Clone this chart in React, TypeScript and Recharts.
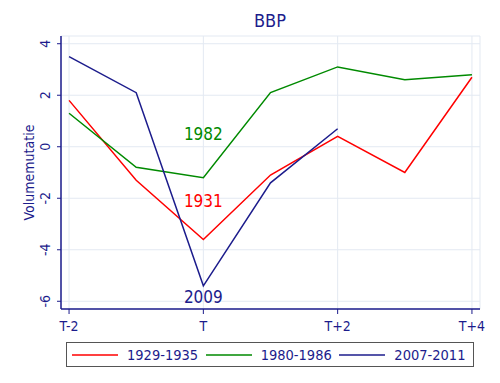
import React from "react";
import {
  LineChart,
  Line,
  XAxis,
  YAxis,
  CartesianGrid,
  Legend,
  ReferenceDot,
  Customized,
} from "recharts";

// T-2 .. T+4, yearly steps
const periods = [-2, -1, 0, 1, 2, 3, 4];
const periodTicks = [-2, 0, 2, 4];
const periodTickLabels = ["T-2", "T", "T+2", "T+4"];
const valueTicks = [-6, -4, -2, 0, 2, 4];

const crisis1929 = [1.8, -1.3, -3.6, -1.1, 0.4, -1.0, 2.7];
const crisis1980 = [1.3, -0.8, -1.2, 2.1, 3.1, 2.6, 2.8];
const crisis2007 = [3.5, 2.1, -5.4, -1.4, 0.7, null, null];

const seriesKeys = ["c1929", "c1980", "c2007"];
const seriesNames = ["1929-1935", "1980-1986", "2007-2011"];
const seriesColors = ["#ff0000", "#008a00", "#1c1c8c"];

// year labels placed near the trough (T)
const troughYears = ["1931", "1982", "2009"];
const troughLabelValues = [-2.1, 0.5, -5.85];

const NAVY = "#1c1c8c";
const FONT = "'DejaVu Sans Condensed', 'DejaVu Sans', sans-serif";

const data = periods.map((p, i) => ({
  period: p,
  c1929: crisis1929[i],
  c1980: crisis1980[i],
  c2007: crisis2007[i],
}));

const labelFor = (p: number) => {
  const idx = periodTicks.indexOf(p);
  return idx >= 0 ? periodTickLabels[idx] : "";
};

function RotatedTick(props: any) {
  const { x, y, payload } = props;
  return (
    <text
      x={x}
      y={y}
      transform={`rotate(-90, ${x}, ${y})`}
      textAnchor="middle"
      dominantBaseline="central"
      fill={NAVY}
      fontSize={14}
      fontFamily={FONT}
    >
      {payload.value}
    </text>
  );
}

function LegendBox() {
  return (
    <div
      style={{
        boxSizing: "border-box",
        width: 408,
        height: 25,
        border: "1px solid #555",
        display: "flex",
        alignItems: "center",
        paddingLeft: 5,
        fontFamily: FONT,
        fontSize: 14.5,
        color: NAVY,
        background: "#fff",
      }}
    >
      {seriesNames.map((name, i) => (
        <div key={name} style={{ display: "flex", alignItems: "center", width: 138 }}>
          <svg width={46} height={6} style={{ marginRight: 9 }}>
            <line x1={0} y1={3} x2={46} y2={3} stroke={seriesColors[i]} strokeWidth={1.5} />
          </svg>
          <span>{name}</span>
        </div>
      ))}
    </div>
  );
}

export default function App() {
  return (
    <div style={{ position: "absolute", left: 0, top: 0, width: 500, height: 383, background: "#fff" }}>
      <LineChart
        width={500}
        height={383}
        data={data}
        margin={{ top: 36, right: 20, left: 0, bottom: 16 }}
      >
        <CartesianGrid stroke="#e3e9f2" strokeWidth={1} />
        <XAxis
          dataKey="period"
          type="number"
          domain={[-2.12, 4.12]}
          ticks={periodTicks}
          tickFormatter={labelFor}
          height={33}
          tickSize={5}
          tickMargin={7}
          axisLine={{ stroke: NAVY, strokeWidth: 1.5 }}
          tickLine={{ stroke: NAVY }}
          tick={{ fill: NAVY, fontSize: 14, fontFamily: FONT }}
          allowDataOverflow
        />
        <YAxis
          type="number"
          domain={[-6.3, 4.3]}
          ticks={valueTicks}
          width={61}
          tickSize={4}
          tickMargin={12}
          axisLine={{ stroke: NAVY, strokeWidth: 1.5 }}
          tickLine={{ stroke: NAVY }}
          tick={<RotatedTick />}
          allowDataOverflow
          label={{
            value: "Volumemutatie",
            angle: -90,
            position: "center",
            dx: -1,
            fill: NAVY,
            fontSize: 14,
            fontFamily: FONT,
          }}
        />
        {seriesKeys.map((key, i) => (
          <Line
            key={key}
            type="linear"
            dataKey={key}
            name={seriesNames[i]}
            stroke={seriesColors[i]}
            strokeWidth={1.5}
            dot={false}
            activeDot={false}
            isAnimationActive={false}
          />
        ))}
        {troughYears.map((year, i) => (
          <ReferenceDot
            key={year}
            x={0}
            y={troughLabelValues[i]}
            r={0}
            fill="none"
            stroke="none"
            label={{
              value: year,
              position: "center",
              fill: seriesColors[i],
              fontSize: 17,
              fontFamily: FONT,
            }}
          />
        ))}
        <Legend
          verticalAlign="bottom"
          content={<LegendBox />}
          wrapperStyle={{ left: 66, top: 342, width: 408, height: 25 }}
        />
        <Customized
          component={() => (
            <text
              x={270}
              y={27}
              textAnchor="middle"
              fill={NAVY}
              fontSize={18}
              fontFamily={FONT}
            >
              BBP
            </text>
          )}
        />
      </LineChart>
    </div>
  );
}
